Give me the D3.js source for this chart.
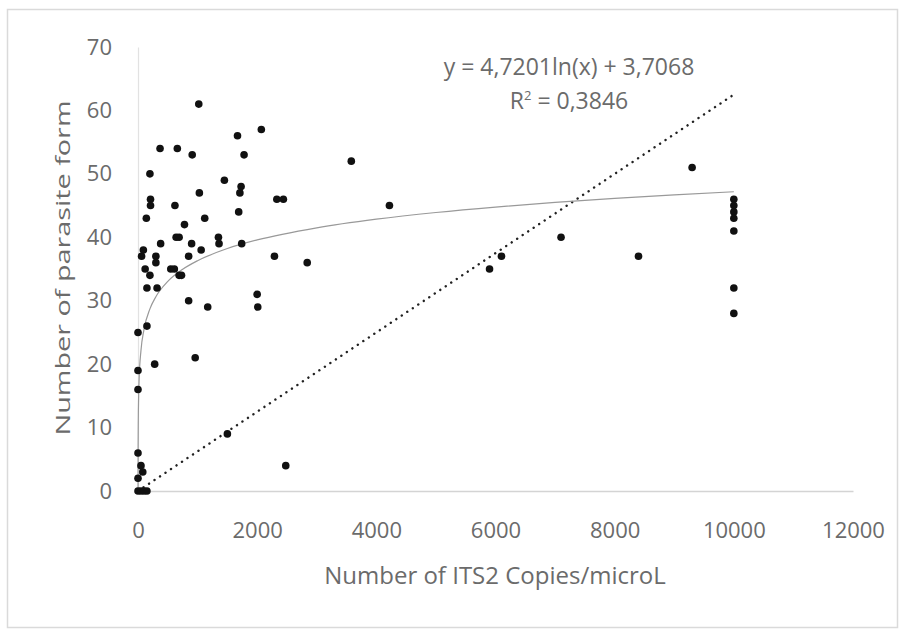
<!DOCTYPE html>
<html>
<head>
<meta charset="utf-8">
<script src="https://cdn.jsdelivr.net/npm/d3@7"></script>
<style>
  body { margin: 0; background: #fff; }
  .tick text { font-family: "Open Sans", sans-serif; fill: #6b6b6b; }
</style>
</head>
<body>
<script>
// Chart data
var copies = [0, 50, 100, 150, 0, 80, 50, 0, 0, 0, 0, 150, 280, 960, 1500, 2480,
  150, 320, 850, 1170, 2000, 2010,
  120, 200, 550, 610, 690, 730,
  60, 90, 300, 300, 850, 1060, 2290, 2840,
  380, 640, 690, 900, 1350, 1360, 1740,
  140, 780, 1120, 1690,
  210, 210, 620, 1030, 1710, 1730, 2330, 2440, 4220,
  200, 1450, 370, 660, 910, 1780, 1670, 2070, 1020, 3580,
  5900, 6100, 7100, 8400, 9300,
  10000, 10000, 10000, 10000, 10000, 10000, 10000];
var parasites = [0, 0, 0, 0, 2, 3, 4, 6, 16, 19, 25, 26, 20, 21, 9, 4,
  32, 32, 30, 29, 31, 29,
  35, 34, 35, 35, 34, 34,
  37, 38, 37, 36, 37, 38, 37, 36,
  39, 40, 40, 39, 40, 39, 39,
  43, 42, 43, 44,
  46, 45, 45, 47, 47, 48, 46, 46, 45,
  50, 49, 54, 54, 53, 53, 56, 57, 61, 52,
  35, 37, 40, 37, 51,
  46, 45, 44, 43, 41, 32, 28];

var xTicks = [0, 2000, 4000, 6000, 8000, 10000, 12000];
var yTicks = [0, 10, 20, 30, 40, 50, 60, 70];

// trendlines as printed on the chart
var logA = 4.7201, logB = 3.7068;
var linSlope = 0.00625, linIntercept = 0;
var trendX = [0.5, 1, 2, 5, 10, 20, 50, 100, 200, 300, 500, 750, 1000, 1500, 2000,
  3000, 4000, 5000, 6000, 7000, 8000, 9000, 10000];

var svgWidth = 904;
var svgHeight = 635;

var margin = { top: 47, right: 51, bottom: 144, left: 138 };
var chartWidth = svgWidth - margin.left - margin.right;
var chartHeight = svgHeight - margin.top - margin.bottom;

var svg = d3.select("body")
  .append("svg")
  .attr("width", svgWidth)
  .attr("height", svgHeight);

// outer frame
svg.append("rect")
  .attr("x", 7.5).attr("y", 9.5)
  .attr("width", 890).attr("height", 618)
  .attr("fill", "none")
  .attr("stroke", "#dadada")
  .attr("stroke-width", 1.5);

var chartGroup = svg.append("g")
  .attr("transform", `translate(${margin.left}, ${margin.top})`);

var xScale = d3.scaleLinear().domain([0, 12000]).range([0, chartWidth]);
var yScale = d3.scaleLinear().domain([0, 70]).range([chartHeight, 0]);

// y axis
var yAxis = chartGroup.append("g")
  .call(d3.axisLeft(yScale).tickValues(yTicks).tickSize(0).tickPadding(26));
yAxis.select(".domain").attr("stroke", "#e2e2e2").attr("stroke-width", 1.2);
yAxis.selectAll("text").attr("font-size", "22px");

// x axis
var xAxis = chartGroup.append("g")
  .attr("transform", `translate(0, ${chartHeight})`)
  .call(d3.axisBottom(xScale).tickValues(xTicks).tickFormat(d3.format("d"))
    .tickSize(0).tickPadding(31));
xAxis.select(".domain").attr("stroke", "#d4d4d4").attr("stroke-width", 1.6);
xAxis.selectAll("text").attr("font-size", "22px");

// linear trendline (dotted)
chartGroup.append("path")
  .attr("d", d3.line()
    .x(d => xScale(d))
    .y(d => yScale(linSlope * d + linIntercept))([0, 10000]))
  .attr("fill", "none")
  .attr("stroke", "#222")
  .attr("stroke-width", 2.4)
  .attr("stroke-linecap", "round")
  .attr("stroke-dasharray", "0.1 6.5");

// logarithmic trendline
chartGroup.append("path")
  .attr("d", d3.line()
    .curve(d3.curveMonotoneX)
    .x(d => xScale(d))
    .y(d => yScale(logA * Math.log(d) + logB))(trendX))
  .attr("fill", "none")
  .attr("stroke", "#999")
  .attr("stroke-width", 1.2);

// points
chartGroup.selectAll("circle")
  .data(copies)
  .enter()
  .append("circle")
  .attr("cx", d => xScale(d))
  .attr("cy", (d, i) => yScale(parasites[i]))
  .attr("r", 3.8)
  .attr("fill", "#111");

// equation label
chartGroup.append("text")
  .attr("x", 431).attr("y", 28)
  .attr("text-anchor", "middle")
  .attr("font-family", "Open Sans, sans-serif")
  .attr("font-size", "23px")
  .attr("fill", "#6b6b6b")
  .text("y = 4,7201ln(x) + 3,7068");

var r2 = chartGroup.append("text")
  .attr("x", 431).attr("y", 62)
  .attr("text-anchor", "middle")
  .attr("font-family", "Open Sans, sans-serif")
  .attr("font-size", "23px")
  .attr("fill", "#6b6b6b");
r2.append("tspan").text("R");
r2.append("tspan").attr("font-size", "13px").attr("dy", "-9").text("2");
r2.append("tspan").attr("dy", "9").text(" = 0,3846");

// x-axis label
svg.append("text")
  .attr("transform", "translate(495, 584)")
  .attr("text-anchor", "middle")
  .attr("font-family", "Open Sans, sans-serif")
  .attr("font-size", "24px")
  .attr("fill", "#6b6b6b")
  .text("Number of ITS2 Copies/microL");

// y-axis label (stretched along its length like the reference)
svg.append("text")
  .attr("transform", "translate(70, 268) rotate(-90) scale(1.2, 0.85)")
  .attr("text-anchor", "middle")
  .attr("font-family", "Open Sans, sans-serif")
  .attr("font-size", "24px")
  .attr("fill", "#6b6b6b")
  .text("Number of parasite form");
</script>
</body>
</html>
